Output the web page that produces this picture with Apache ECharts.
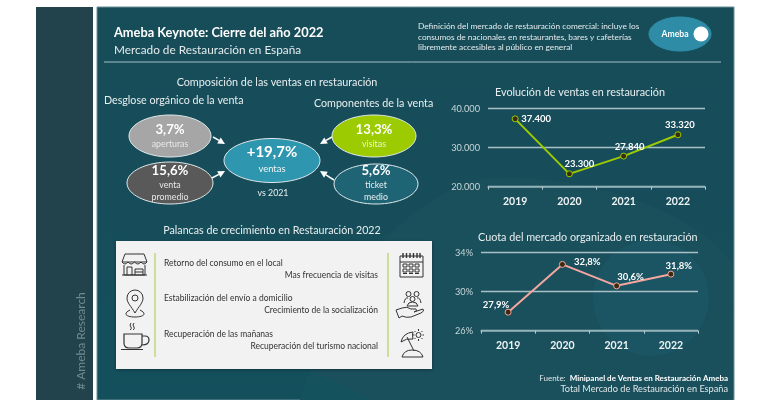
<!DOCTYPE html>
<html>
<head>
<meta charset="utf-8">
<title>Ameba Keynote</title>
<style>
html, body { margin: 0; padding: 0; background: #fff; }
#chart { width: 770px; height: 400px; }
</style>
<script src="https://cdn.jsdelivr.net/npm/echarts@6/dist/echarts.min.js"></script>
</head>
<body>
<div id="chart"></div>
<script>
// datos de las dos graficas de lineas
const years = ['2019', '2020', '2021', '2022'];
const ventasValues = [37400, 23300, 27840, 33320];
const cuotaValues = [27.9, 32.8, 30.6, 31.8];

// textos de la infografia
const definitionLines = [
    'Definición del mercado de restauración comercial: incluye los',
    'consumos de nacionales en restaurantes, bares y cafeterías',
    'libremente accesibles al público en general'
];
const palancasLeft = ['Retorno del consumo en el local', 'Estabilización del envío a domicilio', 'Recuperación de las mañanas'];
const palancasRight = ['Mas frecuencia de visitas', 'Crecimiento de la socialización', 'Recuperación del turismo nacional'];

const FONT = 'Lato, "Open Sans", sans-serif';
const chart = echarts.init(document.getElementById('chart'));

function txt(x, y, text, size, color, extra) {
    return {
        type: 'text', x: x, y: y, silent: true,
        style: Object.assign({
            text: text, fontFamily: FONT, fontSize: size, fill: color,
            textAlign: 'left', textVerticalAlign: 'middle'
        }, extra || {})
    };
}

function oval(cx, cy, rx, ry, fill, stroke) {
    return {
        type: 'ellipse', silent: true,
        shape: { cx: cx, cy: cy, rx: rx, ry: ry },
        style: { fill: fill, stroke: stroke || '#dfe8ea', lineWidth: 1 }
    };
}

function arrow(x1, y1, x2, y2) {
    const a = Math.atan2(y2 - y1, x2 - x1);
    const h = 7, w = 3.5;
    const bx = x2 - h * Math.cos(a), by = y2 - h * Math.sin(a);
    return [
        { type: 'line', silent: true, shape: { x1: x1, y1: y1, x2: bx, y2: by }, style: { stroke: '#fff', lineWidth: 1.5 } },
        {
            type: 'polygon', silent: true,
            shape: { points: [[x2, y2], [bx - w * Math.sin(a), by + w * Math.cos(a)], [bx + w * Math.sin(a), by - w * Math.cos(a)]] },
            style: { fill: '#fff' }
        }
    ];
}

// el componente graphic no acepta 'path', asi que cada trazado se registra como forma
let shapeCount = 0;
function pathShape(d, style) {
    const name = 'trazo' + (shapeCount++);
    echarts.graphic.registerShape(name, echarts.graphic.extendPath(d, {}));
    return { type: name, silent: true, style: style };
}

function icon(d, width) {
    return pathShape(d, { fill: 'none', stroke: '#333', lineWidth: width || 1 });
}

// iconos de la tarjeta
const icons = [
    // tienda
    icon('M125 254H144L147 262H122ZM122 262Q125 266 128 262Q131 266 134.500 262Q138 266 141 262Q144 266 147 262M124 265V275H145V265M127 275V267H132V275M135 275V269H143V275M135 272H143M122 275H147'),
    // ubicacion
    icon('M135 313C131 306 127 303 127 298A8 8 0 0 1 143 298C143 303 139 306 135 313ZM132 298A3 3 0 1 0 138 298A3 3 0 1 0 132 298ZM130 310C122 314 127 317 135 317C143 317 148 314 140 310'),
    // taza
    icon('M124 334H142V343Q142 348 137 348H129Q124 348 124 343ZM142 336H145Q149 336 149 340Q149 345 142 345M121 349.500H143', 1.2),
    icon('M131 323Q129 325 131 327Q132 329 130 330M134 323Q132 325 134 327Q135 329 133 330'),
    // calendario
    icon('M400 256H423V277H400ZM400 262H423'),
    icon('M403 253V258M406.500 253V258M410 253V258M413.500 253V258M417 253V258M420 253V258', 1.4),
    icon('M403 264H407V267H403ZM409 264H413V267H409ZM415 264H419V267H415ZM403 269H407V272H403ZM409 269H413V272H409ZM415 269H419V272H415ZM403 273.500H407M409 273.500H413M415 273.500H419'),
    // personas y mano
    icon('M406 294A2.500 2.500 0 1 0 411 294A2.500 2.500 0 1 0 406 294ZM414 294A2.500 2.500 0 1 0 419 294A2.500 2.500 0 1 0 414 294ZM410 299A2.500 2.500 0 1 0 415 299A2.500 2.500 0 1 0 410 299ZM404 303Q405 297 408 298M421 303Q420 297 417 298M407 306Q408 302 412.500 302Q417 302 418 306Z'),
    icon('M396 310L402 308Q407 306 411 309H416Q418 311 414 312L423 309Q425 311 421 313L411 317Q406 318 402 316L399 318Z'),
    // playa
    icon('M401 342Q403 333 413 332Q412 335 413 339Q406 338 401 342ZM407 337L414 351M402 357Q404 350 412 350Q421 350 423 357Z'),
    icon('M416 335A2.500 2.500 0 1 0 421 335A2.500 2.500 0 1 0 416 335ZM418.500 329V331M418.500 339V341M412.500 335H414.500M422.500 335H424M414.500 331L415.500 332M421.500 338L422.500 339M422.500 331L421.500 332M415.500 338L414.500 339')
];

const graphics = [
    // fondos
    { type: 'rect', silent: true, shape: { x: 36, y: 7, width: 57, height: 393 }, style: { fill: '#22434B' } },
    {
        type: 'rect', silent: true, shape: { x: 97, y: 7, width: 637, height: 393 },
        style: {
            fill: new echarts.graphic.LinearGradient(0, 0, 0, 1, [
                { offset: 0, color: '#174C59' },
                { offset: 0.5, color: '#174D5A' },
                { offset: 1, color: '#13505C' }
            ]),
            stroke: '#6d8f97', lineWidth: 1
        }
    },
    pathShape('M300 400Q350 230 470 180Q560 170 650 205Q700 225 733 262V400Z', { fill: '#1A4F5C' }),
    pathShape('M310 370L370 400H300Z', { fill: '#14525E' }),
    { type: 'circle', silent: true, shape: { cx: 651, cy: 298, r: 58 }, style: { fill: '#1B5462' } },
    { type: 'text', x: 81, y: 341, rotation: Math.PI / 2, silent: true, style: { text: '# Ameba Research', fontFamily: FONT, fontSize: 12, fill: '#6f8b92', textAlign: 'center', textVerticalAlign: 'middle' } },

    // cabecera
    { type: 'line', silent: true, shape: { x1: 104, y1: 62, x2: 721, y2: 62 }, style: { stroke: '#a7c0c5', lineWidth: 1 } },
    txt(114, 33, 'Ameba Keynote: Cierre del año 2022', 12.8, '#fff', { fontWeight: 'bold' }),
    txt(114, 50, 'Mercado de Restauración en España', 11.8, '#e4eced'),
    txt(418, 26, definitionLines[0], 8.3, '#e4eced'),
    txt(418, 37, definitionLines[1], 8.3, '#e4eced'),
    txt(418, 47, definitionLines[2], 8.3, '#e4eced'),
    oval(680, 34, 31, 17, '#2E8CA6', '#2E8CA6'),
    { type: 'circle', silent: true, shape: { cx: 701, cy: 34, r: 7.5 }, style: { fill: '#fff' } },
    txt(675, 34, 'Ameba', 8.6, '#fff', { fontWeight: 'bold', textAlign: 'center' }),

    // composicion de las ventas
    txt(277, 83, 'Composición de las ventas en restauración', 10.8, '#e8eff0', { textAlign: 'center' }),
    txt(104, 101, 'Desglose orgánico de la venta', 10.7, '#e8eff0'),
    txt(314, 104, 'Componentes de la venta', 10.7, '#e8eff0'),
    oval(170, 136, 41, 21, '#A6A6A6'),
    oval(170, 183, 43, 21, '#595959'),
    oval(272, 160.5, 48, 22, '#2E96AE'),
    oval(374, 136, 42, 21, '#9BCB00'),
    oval(376, 184, 42, 20, '#1E6474'),
    ...arrow(213, 137, 225, 144),
    ...arrow(212, 178, 225, 171),
    ...arrow(332, 137, 320, 144),
    ...arrow(334, 180, 320, 171),
    txt(170, 130, '3,7%', 13.2, '#fff', { fontWeight: 'bold', textAlign: 'center' }),
    txt(170, 144, 'aperturas', 8.8, '#e8e8e8', { textAlign: 'center' }),
    txt(170, 171, '15,6%', 13.2, '#fff', { fontWeight: 'bold', textAlign: 'center' }),
    txt(170, 185, 'venta', 8.8, '#e8e8e8', { textAlign: 'center' }),
    txt(170, 197, 'promedio', 8.8, '#e8e8e8', { textAlign: 'center' }),
    txt(272, 152, '+19,7%', 15, '#fff', { fontWeight: 'bold', textAlign: 'center' }),
    txt(272, 169, 'ventas', 9.4, '#eef4f5', { textAlign: 'center' }),
    txt(273, 193, 'vs 2021', 8.8, '#e8eff0', { textAlign: 'center' }),
    txt(374, 130, '13,3%', 13.2, '#fff', { fontWeight: 'bold', textAlign: 'center' }),
    txt(374, 144, 'visitas', 8.8, '#eef6d0', { textAlign: 'center' }),
    txt(376, 171, '5,6%', 13.2, '#fff', { fontWeight: 'bold', textAlign: 'center' }),
    txt(376, 185, 'ticket', 8.8, '#e8eff0', { textAlign: 'center' }),
    txt(376, 197, 'medio', 8.8, '#e8eff0', { textAlign: 'center' }),

    // palancas de crecimiento
    txt(272, 231, 'Palancas de crecimiento en Restauración 2022', 10.7, '#e8eff0', { textAlign: 'center' }),
    { type: 'rect', silent: true, shape: { x: 116, y: 241, width: 316, height: 128 }, style: { fill: '#F2F2F2', shadowColor: 'rgba(0,0,0,0.35)', shadowBlur: 3, shadowOffsetY: 1 } },
    { type: 'line', silent: true, shape: { x1: 155, y1: 253, x2: 155, y2: 357 }, style: { stroke: '#BFD97A', lineWidth: 1.5 } },
    { type: 'line', silent: true, shape: { x1: 388, y1: 253, x2: 388, y2: 357 }, style: { stroke: '#BFD97A', lineWidth: 1.5 } },
    ...palancasLeft.map((t, i) => txt(164, 263 + i * 35.5, t, 8.5, '#333')),
    ...palancasRight.map((t, i) => txt(378, 275 + i * 35.5, t, 8.5, '#333', { textAlign: 'right' })),
    ...icons,

    // titulos de las lineas y fuente
    txt(495, 93, 'Evolución de ventas en restauración', 10.8, '#e8eff0'),
    txt(478, 238, 'Cuota del mercado organizado en restauración', 10.8, '#e8eff0'),
    txt(728, 378, '{a|Fuente:  }{b|Minipanel de Ventas en Restauración Ameba}', 8, '#dfe8ea', {
        textAlign: 'right',
        rich: {
            a: { fontFamily: FONT, fontSize: 8, fill: '#dfe8ea' },
            b: { fontFamily: FONT, fontSize: 8, fontWeight: 'bold', fill: '#fff' }
        }
    }),
    txt(728, 389, 'Total Mercado de Restauración en España', 9.2, '#dfe8ea', { textAlign: 'right' })
];

function xAxisFor(gridIndex) {
    return {
        type: 'category', gridIndex: gridIndex, data: years,
        axisLine: { lineStyle: { color: '#8fb0b7', width: 1.5 } },
        axisTick: { show: true, length: 3, alignWithLabel: false, lineStyle: { color: '#b9cdd1' } },
        axisLabel: { color: '#eef3f4', fontFamily: FONT, fontSize: 10.5, fontWeight: 'bold', margin: 9 }
    };
}

function yAxisFor(gridIndex, min, max, interval, fmt) {
    return {
        type: 'value', gridIndex: gridIndex, min: min, max: max, interval: interval,
        axisLine: { show: false }, axisTick: { show: false },
        splitLine: { lineStyle: { color: '#a9c0c5', width: 1.3 } },
        axisLabel: { color: '#c8d6d9', fontFamily: FONT, fontSize: 9.2, margin: 8, formatter: fmt }
    };
}

function puntos(values, offsets) {
    return values.map((v, i) => ({ value: v, label: { offset: offsets[i] } }));
}

function lineSeries(idx, values, offsets, color, fmt) {
    return {
        type: 'line', xAxisIndex: idx, yAxisIndex: idx,
        data: puntos(values, offsets),
        lineStyle: { color: color, width: 2 },
        symbol: 'circle', symbolSize: 6,
        itemStyle: { color: '#3a2a10', borderColor: color, borderWidth: 1 },
        label: {
            show: true, position: 'top', distance: 5,
            color: '#fff', fontFamily: FONT, fontSize: 9.5, fontWeight: 'bold',
            formatter: p => fmt(p.value)
        },
        animation: false, z: 5
    };
}

const miles = v => String(v).replace(/\B(?=(\d{3})+$)/g, '.');
const pct1 = v => v.toFixed(1).replace('.', ',') + '%';

chart.setOption({
    animation: false,
    backgroundColor: '#ffffff',
    grid: [
        { left: 488, top: 108.7, width: 217, height: 78 },
        { left: 481, top: 252.7, width: 217, height: 78 }
    ],
    xAxis: [xAxisFor(0), xAxisFor(1)],
    yAxis: [
        yAxisFor(0, 20000, 40000, 10000, v => miles(v)),
        yAxisFor(1, 26, 34, 4, v => v + '%')
    ],
    series: [
        lineSeries(0, ventasValues, [[21, 14], [10, 4], [6, 4], [2, 4]], '#9BCB00', miles),
        lineSeries(1, cuotaValues, [[-12, 6], [25, 11], [14, 5], [8, 5]], '#F4A6A0', pct1)
    ],
    graphic: { elements: graphics }
});
</script>
</body>
</html>
